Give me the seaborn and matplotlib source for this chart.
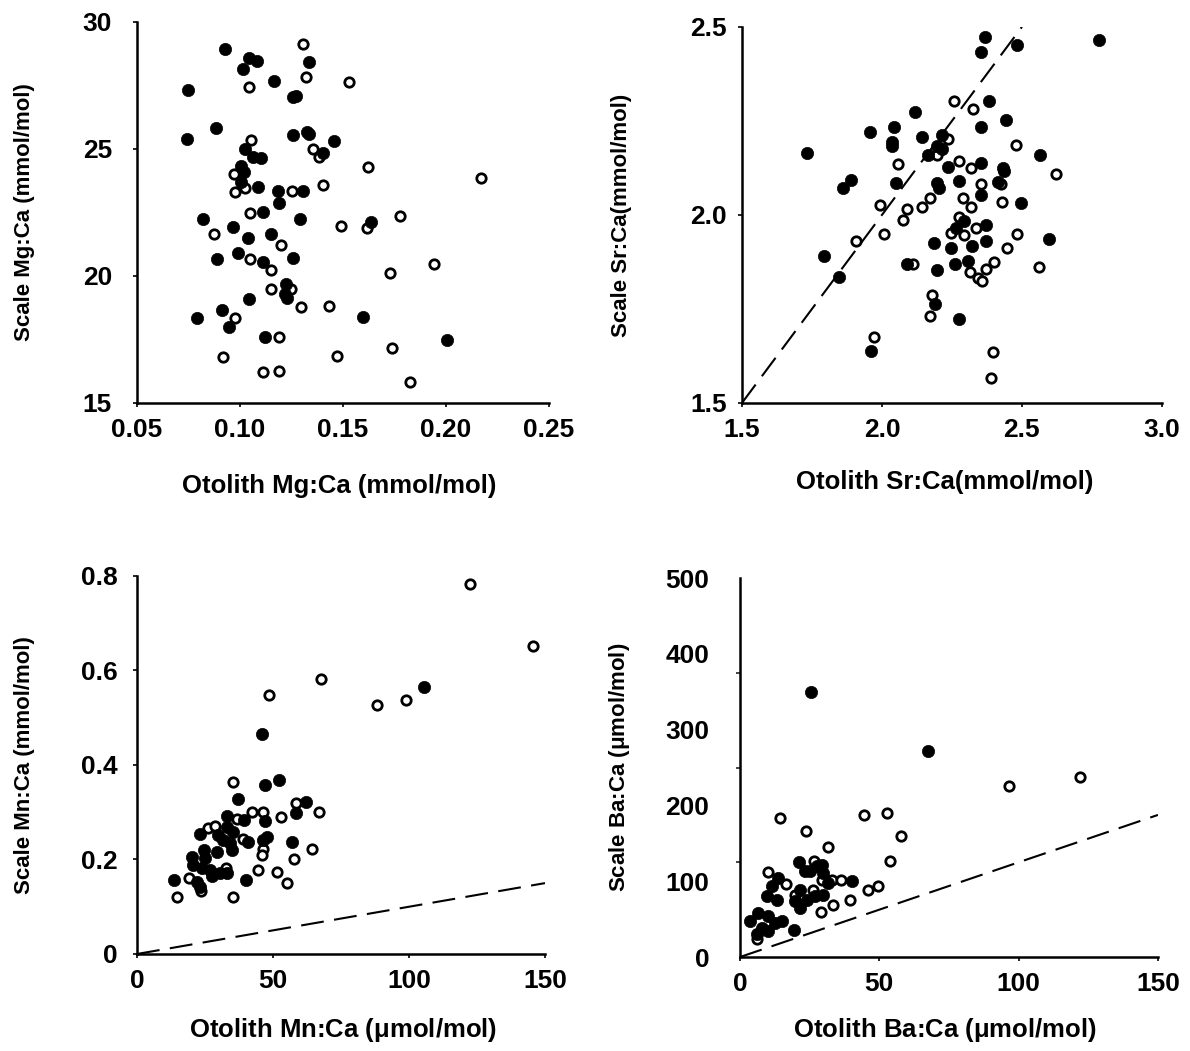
import matplotlib
matplotlib.use("Agg")
import matplotlib.pyplot as plt
import seaborn as sns
import pandas as pd

# ---- data (filled = one group, open = the other) ----
# Mg:Ca (mmol/mol)
mg_filled_x = [0.0927, 0.1043, 0.1082, 0.1334, 0.1014, 0.1164, 0.0747, 0.1257, 0.1271, 0.0883,
               0.0743, 0.1257, 0.1325, 0.1334, 0.1455, 0.1024, 0.1402, 0.1063, 0.1101, 0.1004,
               0.1019, 0.1004, 0.1087, 0.1184, 0.1305, 0.1189, 0.1111, 0.0820, 0.1291, 0.1635,
               0.0966, 0.1038, 0.1150, 0.0888, 0.0990, 0.1111, 0.1257, 0.1223, 0.1218, 0.1228,
               0.1043, 0.0912, 0.0791, 0.0946, 0.1596, 0.1121, 0.2005]
mg_filled_y = [28.94, 28.58, 28.46, 28.43, 28.15, 27.68, 27.32, 27.05, 27.09, 25.83,
               25.39, 25.55, 25.67, 25.59, 25.31, 25.00, 24.84, 24.69, 24.65, 24.33,
               24.09, 23.70, 23.50, 23.35, 23.35, 22.87, 22.52, 22.24, 22.25, 22.13,
               21.93, 21.50, 21.65, 20.67, 20.91, 20.55, 20.71, 19.69, 19.29, 19.13,
               19.09, 18.66, 18.35, 18.00, 18.39, 17.60, 17.48]
mg_open_x = [0.1305, 0.1320, 0.1528, 0.1043, 0.1053, 0.1354, 0.1383, 0.1620, 0.2168, 0.0970,
             0.1024, 0.0975, 0.1252, 0.1402, 0.1048, 0.1489, 0.1616, 0.1776, 0.0873, 0.1198,
             0.1048, 0.1150, 0.1727, 0.1941, 0.1150, 0.1247, 0.1296, 0.1431, 0.0975, 0.1189,
             0.1737, 0.0917, 0.1470, 0.1111, 0.1189, 0.1824]
mg_open_y = [29.13, 27.83, 27.64, 27.44, 25.35, 25.00, 24.69, 24.29, 23.86, 24.02,
             23.46, 23.31, 23.35, 23.58, 22.48, 21.97, 21.89, 22.36, 21.65, 21.22,
             20.67, 20.24, 20.12, 20.47, 19.49, 19.49, 18.78, 18.82, 18.35, 17.60,
             17.17, 16.81, 16.85, 16.22, 16.26, 15.83]

# Sr:Ca (mmol/mol)
sr_filled_x = [2.368, 2.353, 2.482, 2.777, 2.383, 2.119, 2.353, 2.443, 1.958, 2.043,
               2.037, 2.037, 2.144, 2.213, 2.195, 2.213, 2.165, 1.733, 2.564, 2.237,
               2.353, 2.431, 2.437, 1.888, 1.862, 2.049, 2.276, 2.195, 2.204, 2.415,
               2.353, 2.495, 2.294, 2.263, 2.371, 2.185, 2.246, 2.323, 2.371, 2.596,
               1.792, 2.088, 2.260, 2.308, 2.196, 1.848, 2.189, 2.274, 1.961]
sr_filled_y = [2.473, 2.434, 2.453, 2.465, 2.304, 2.274, 2.233, 2.253, 2.221, 2.233,
               2.194, 2.182, 2.207, 2.213, 2.184, 2.175, 2.160, 2.165, 2.160, 2.128,
               2.137, 2.124, 2.117, 2.093, 2.071, 2.086, 2.091, 2.084, 2.071, 2.087,
               2.054, 2.033, 1.985, 1.965, 1.973, 1.926, 1.913, 1.918, 1.930, 1.935,
               1.892, 1.870, 1.870, 1.878, 1.854, 1.836, 1.763, 1.723, 1.639]
sr_open_x = [2.256, 2.326, 2.237, 2.478, 2.196, 2.056, 2.276, 2.317, 2.620, 2.353,
             2.424, 2.171, 2.288, 2.317, 2.428, 1.993, 2.089, 2.144, 2.075, 2.007,
             1.907, 2.275, 2.245, 2.293, 2.336, 2.481, 2.448, 2.110, 2.399, 2.370,
             2.315, 2.342, 2.358, 2.561, 2.178, 2.171, 1.970, 2.395, 2.390]
sr_open_y = [2.304, 2.281, 2.201, 2.185, 2.160, 2.136, 2.144, 2.124, 2.109, 2.082,
             2.082, 2.044, 2.045, 2.021, 2.035, 2.026, 2.015, 2.020, 1.987, 1.949,
             1.932, 1.994, 1.951, 1.947, 1.965, 1.949, 1.913, 1.870, 1.876, 1.856,
             1.848, 1.833, 1.824, 1.861, 1.787, 1.731, 1.676, 1.636, 1.566]

# Mn:Ca (otolith umol/mol, scale mmol/mol)
mn_filled_x = [105.4, 46.0, 47.2, 52.2, 37.2, 62.1, 58.3, 33.0, 39.4, 47.1,
               23.2, 29.9, 33.0, 35.4, 31.7, 40.9, 47.7, 57.1, 34.8, 29.5,
               24.6, 20.1, 25.0, 20.7, 23.8, 26.8, 30.5, 33.0, 27.5, 13.7,
               21.9, 23.2, 40.1, 46.4, 34.2]
mn_filled_y = [0.564, 0.466, 0.357, 0.368, 0.328, 0.322, 0.299, 0.291, 0.284, 0.281,
               0.254, 0.252, 0.269, 0.259, 0.241, 0.238, 0.248, 0.238, 0.220, 0.215,
               0.220, 0.206, 0.203, 0.188, 0.181, 0.178, 0.171, 0.171, 0.164, 0.157,
               0.153, 0.142, 0.156, 0.241, 0.234]
mn_open_x = [122.4, 145.5, 67.6, 48.5, 88.2, 99.0, 35.3, 42.2, 46.3, 58.3,
             66.8, 52.9, 36.7, 26.0, 28.8, 38.9, 46.3, 45.8, 64.3, 57.8,
             44.4, 51.5, 55.0, 32.7, 19.1, 23.4, 14.6, 35.3]
mn_open_y = [0.783, 0.651, 0.581, 0.548, 0.527, 0.538, 0.365, 0.301, 0.301, 0.319,
             0.300, 0.289, 0.285, 0.267, 0.271, 0.243, 0.222, 0.210, 0.222, 0.200,
             0.178, 0.174, 0.151, 0.183, 0.161, 0.134, 0.121, 0.121]

# Ba:Ca (umol/mol)
ba_filled_x = [25.6, 67.5, 21.2, 23.3, 27.5, 29.9, 31.7, 40.1, 13.7, 11.4,
               9.6, 13.2, 21.5, 19.7, 23.9, 26.9, 29.9, 21.5, 6.6, 3.6,
               10.2, 12.6, 15.0, 7.8, 10.2, 6.0, 19.5, 25.1, 29.3]
ba_filled_y = [349.6, 272.0, 125.0, 113.2, 119.7, 111.1, 97.9, 100.0, 104.5, 93.4,
               80.3, 75.9, 89.1, 73.7, 75.9, 80.3, 82.5, 65.0, 58.4, 47.4,
               53.9, 45.3, 47.4, 38.7, 34.2, 29.9, 35.5, 113.2, 122.0]
ba_open_x = [96.6, 121.9, 14.5, 44.4, 52.9, 23.6, 57.7, 31.7, 53.7, 26.7,
             9.9, 16.4, 29.5, 32.9, 36.2, 45.8, 49.6, 26.1, 19.7, 39.6,
             33.5, 29.0, 6.0]
ba_open_y = [225.5, 237.8, 182.9, 187.4, 189.5, 166.3, 159.2, 144.7, 127.2, 127.2,
             111.8, 97.0, 101.3, 102.2, 102.2, 88.2, 93.9, 88.2, 82.5, 75.0,
             68.0, 59.2, 23.3]

# dashed reference lines
sr_line_x = [1.5, 2.5]
sr_line_y = [1.5, 2.5]
mn_line_x = [0, 150]
mn_line_y = [0, 0.15]
ba_line_x = [0, 150]
ba_line_y = [0, 187.5]

sns.set_style("white")
plt.rcParams['font.family'] = ['Liberation Sans', 'DejaVu Sans']
plt.rcParams['mathtext.fontset'] = 'custom'
plt.rcParams['mathtext.rm'] = 'Liberation Sans'
plt.rcParams['mathtext.it'] = 'Liberation Sans'
plt.rcParams['mathtext.bf'] = 'Liberation Sans:bold'
plt.rcParams['font.weight'] = 'bold'
plt.rcParams['text.color'] = 'black'
plt.rcParams['axes.labelcolor'] = 'black'

fig = plt.figure(figsize=(11.9, 10.51), dpi=100)

panels = [
    dict(rect=[0.1151, 0.6166, 0.3462, 0.3625],
         fx=mg_filled_x, fy=mg_filled_y, ox=mg_open_x, oy=mg_open_y,
         xlim=(0.05, 0.25), ylim=(15, 30),
         xticks=[0.05, 0.10, 0.15, 0.20, 0.25], xtl=["0.05", "0.10", "0.15", "0.20", "0.25"],
         yticks=[15, 20, 25, 30], ytl=["15", "20", "25", "30"],
         xlabel="Otolith Mg:Ca (mmol/mol)", ylabel="Scale Mg:Ca (mmol/mol)", line=None,
         ypad=15, xlc=(0.49, -0.218), ylc=(-0.272, 0.5)),
    dict(rect=[0.6235, 0.6166, 0.3529, 0.3578],
         fx=sr_filled_x, fy=sr_filled_y, ox=sr_open_x, oy=sr_open_y,
         xlim=(1.5, 3.0), ylim=(1.5, 2.5),
         xticks=[1.5, 2.0, 2.5, 3.0], xtl=["1.5", "2.0", "2.5", "3.0"],
         yticks=[1.5, 2.0, 2.5], ytl=["1.5", "2.0", "2.5"],
         xlabel="Otolith Sr:Ca(mmol/mol)", ylabel="Scale Sr:Ca(mmol/mol)",
         line=(sr_line_x, sr_line_y),
         ypad=8, xlc=(0.483, -0.21), ylc=(-0.286, 0.5)),
    dict(rect=[0.1151, 0.0923, 0.3429, 0.3597],
         fx=mn_filled_x, fy=mn_filled_y, ox=mn_open_x, oy=mn_open_y,
         xlim=(0, 150), ylim=(0, 0.8),
         xticks=[0, 50, 100, 150], xtl=["0", "50", "100", "150"],
         yticks=[0, 0.2, 0.4, 0.6, 0.8], ytl=["0", "0.2", "0.4", "0.6", "0.8"],
         xlabel="Otolith Mn:Ca ($\\mathbf{\\mu}$mol/mol)", ylabel="Scale Mn:Ca (mmol/mol)",
         line=(mn_line_x, mn_line_y),
         ypad=11, xlc=(0.505, -0.201), ylc=(-0.275, 0.5)),
    dict(rect=[0.6218, 0.0894, 0.3513, 0.3606],
         fx=ba_filled_x, fy=ba_filled_y, ox=ba_open_x, oy=ba_open_y,
         xlim=(0, 150), ylim=(0, 500),
         xticks=[0, 50, 100, 150], xtl=["0", "50", "100", "150"],
         yticks=[0, 100, 200, 300, 400, 500], ytl=["0", "100", "200", "300", "400", "500"],
         xlabel="Otolith Ba:Ca ($\\mathbf{\\mu}$mol/mol)", ylabel="Scale Ba:Ca ($\\mathbf{\\mu}$mol/mol)",
         line=(ba_line_x, ba_line_y),
         ypad=22, xlc=(0.49, -0.193), ylc=(-0.287, 0.5)),
]

for p in panels:
    ax = fig.add_axes(p["rect"])
    if p["line"] is not None:
        sns.lineplot(x=p["line"][0], y=p["line"][1], ax=ax, color="black",
                     linewidth=1.5, linestyle=(0, (11, 5)), zorder=1)
    df_f = pd.DataFrame({"x": p["fx"], "y": p["fy"]})
    df_o = pd.DataFrame({"x": p["ox"], "y": p["oy"]})
    sns.scatterplot(data=df_o, x="x", y="y", ax=ax, color="white", edgecolor="black",
                    linewidth=2.0, s=46, zorder=2)
    sns.scatterplot(data=df_f, x="x", y="y", ax=ax, color="black", edgecolor="black",
                    linewidth=0.5, s=78, zorder=3)
    ax.set_xlim(p["xlim"])
    ax.set_ylim(p["ylim"])
    ax.set_xticks(p["xticks"])
    ax.set_xticklabels(p["xtl"], fontweight="bold")
    ax.set_yticks(p["yticks"])
    ax.set_yticklabels(p["ytl"], fontweight="bold")
    ax.set_xlabel(p["xlabel"], fontsize=18.5, fontweight="bold", va="center", ha="center",
                  color="black")
    ax.set_ylabel(p["ylabel"], fontsize=16, fontweight="bold", va="center", ha="center",
                  color="black")
    ax.xaxis.set_label_coords(*p["xlc"])
    ax.yaxis.set_label_coords(*p["ylc"])
    for side in ["top", "right"]:
        ax.spines[side].set_visible(False)
    for side in ["left", "bottom"]:
        ax.spines[side].set_color("black")
        ax.spines[side].set_linewidth(1.8)
    ax.tick_params(axis="both", direction="out", length=3, width=1.2, colors="black",
                   labelsize=19, left=True, bottom=True)
    ax.tick_params(axis="x", pad=8)
    ax.tick_params(axis="y", pad=p["ypad"])

# Ba panel: tick marks fall every 125 units, labels every 100
ax4 = fig.axes[-1]
ax4.tick_params(axis="y", which="major", length=0)
ax4.set_yticks([0, 125, 250, 375, 500], minor=True)
ax4.tick_params(axis="y", which="minor", direction="out", length=3, width=1.2, left=True)

plt.savefig("out.png", dpi=100)
